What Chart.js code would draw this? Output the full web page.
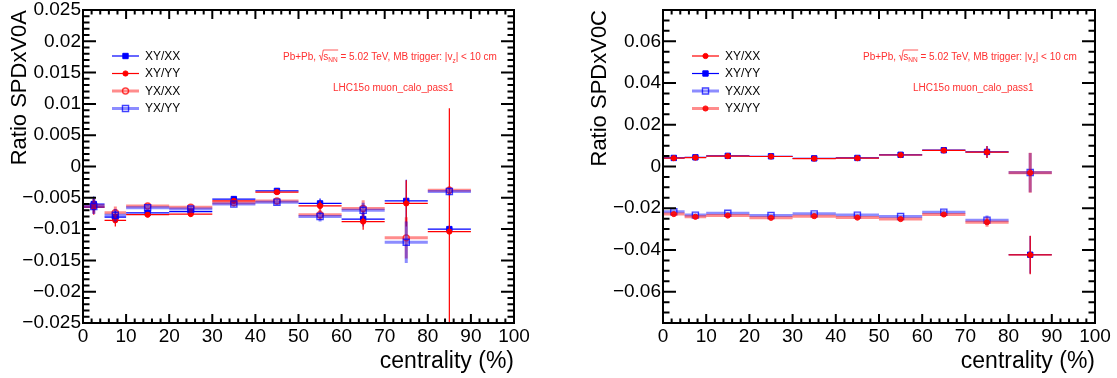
<!DOCTYPE html>
<html>
<head>
<meta charset="utf-8">
<title>SPD x V0 ratios vs centrality</title>
<script src="https://cdn.jsdelivr.net/npm/chart.js@4/dist/chart.umd.min.js"></script>
<style>
  html, body { margin: 0; padding: 0; background: #fff; }
  #wrap { position: relative; width: 1117px; height: 378px; overflow: hidden; }
  .panel { position: absolute; top: 0; height: 378px; }
</style>
</head>
<body>
<div id="wrap">
  <div class="panel" style="left:0;width:558px"><canvas id="v0a" width="558" height="378"></canvas></div>
  <div class="panel" style="left:558px;width:559px"><canvas id="v0c" width="559" height="378"></canvas></div>
</div>
<script>
"use strict";

// centrality bins (%): centres and half widths
var binCentre = [2.5, 7.5, 15, 25, 35, 45, 55, 65, 75, 85];
var binHalf = [2.5, 2.5, 5, 5, 5, 5, 5, 5, 5, 5];

// tick labels
var xTicks = [0, 10, 20, 30, 40, 50, 60, 70, 80, 90, 100];
var yTicksA = [-0.025, -0.02, -0.015, -0.01, -0.005, 0, 0.005, 0.01, 0.015, 0.02, 0.025];
var yTicksC = [-0.06, -0.04, -0.02, 0, 0.02, 0.04, 0.06];

// SPD x V0A ratios
var v0aXYXX = [-0.0060, -0.0081, -0.0074, -0.0072, -0.0052, -0.0039, -0.0059, -0.0084, -0.0055, -0.0100];
var v0aXYXXErr = [0.0012, 0.0010, 0.0004, 0.0004, 0.0004, 0.0004, 0.0008, 0.0012, 0.0034, 0.0006];
var v0aXYYY = [-0.0065, -0.0086, -0.0077, -0.0076, -0.0055, -0.0041, -0.0063, -0.0088, -0.0059, -0.0104];
var v0aXYYYErr = [0.0012, 0.0010, 0.0004, 0.0004, 0.0004, 0.0004, 0.0008, 0.0013, 0.0037, 0.0197];
var v0aYXXX = [-0.0063, -0.0074, -0.0063, -0.0065, -0.0058, -0.0055, -0.0077, -0.0067, -0.0114, -0.0038];
var v0aYXXXErr = [0.0012, 0.0010, 0.0004, 0.0004, 0.0004, 0.0004, 0.0008, 0.0013, 0.0033, 0.0006];
var v0aYXYY = [-0.0064, -0.0078, -0.0066, -0.0068, -0.0060, -0.0057, -0.0080, -0.0070, -0.0121, -0.0040];
var v0aYXYYErr = [0.0012, 0.0010, 0.0004, 0.0004, 0.0004, 0.0004, 0.0008, 0.0012, 0.0033, 0.0006];

// SPD x V0C ratios
var v0cXYXX = [0.0040, 0.0043, 0.0050, 0.0048, 0.0038, 0.0040, 0.0055, 0.0077, 0.0069, -0.0424];
var v0cXYXXErr = [0.0008, 0.0008, 0.0006, 0.0006, 0.0006, 0.0006, 0.0008, 0.0010, 0.0028, 0.0092];
var v0cXYYY = [0.0041, 0.0044, 0.0051, 0.0049, 0.0039, 0.0041, 0.0056, 0.0078, 0.0070, -0.0423];
var v0cXYYYErr = [0.0008, 0.0008, 0.0006, 0.0006, 0.0006, 0.0006, 0.0008, 0.0010, 0.0028, 0.0090];
var v0cYXXX = [-0.0217, -0.0233, -0.0224, -0.0235, -0.0227, -0.0233, -0.0240, -0.0219, -0.0257, -0.0029];
var v0cYXXXErr = [0.0008, 0.0008, 0.0006, 0.0006, 0.0006, 0.0006, 0.0008, 0.0010, 0.0022, 0.0094];
var v0cYXYY = [-0.0228, -0.0241, -0.0235, -0.0246, -0.0238, -0.0245, -0.0252, -0.0230, -0.0267, -0.0030];
var v0cYXYYErr = [0.0008, 0.0008, 0.0006, 0.0006, 0.0006, 0.0006, 0.0008, 0.0010, 0.0022, 0.0096];

var FONT = '"Liberation Sans", Arial, Helvetica, sans-serif';
var BLUE = '#0000ff', RED = '#ff0000';
var BLUE_T = 'rgba(0, 0, 255, 0.45)', RED_T = 'rgba(255, 0, 0, 0.45)';
var NOTE_RED = '#ff3030';

function toPoints(vals) {
    return vals.map(function (v, i) { return {x: binCentre[i], y: v}; });
}

function fmtTick(v) {
    return String(Number(v.toFixed(4))).replace('-', '\u2212');
}

// one graph: markers from Chart.js, error bars from the errorBars plugin
function series(label, vals, errs, st) {
    return {
        label: label,
        data: toPoints(vals),
        errors: errs,
        barColor: st.line,
        barWidth: st.lw,
        order: st.order,
        showLine: false,
        pointStyle: st.style,
        pointRadius: st.r,
        pointBackgroundColor: st.fill,
        pointBorderColor: st.border,
        pointBorderWidth: st.bw
    };
}

// ROOT style error bars: horizontal bin width, vertical stat. error
var errorBars = {
    id: 'errorBars',
    beforeDatasetDraw: function (chart, args) {
        var ds = chart.data.datasets[args.index];
        var xs = chart.scales.x, ys = chart.scales.y, ca = chart.chartArea;
        var ctx = chart.ctx;
        ctx.save();
        ctx.beginPath();
        ctx.rect(ca.left, ca.top, ca.right - ca.left, ca.bottom - ca.top);
        ctx.clip();
        ctx.strokeStyle = ds.barColor;
        ctx.lineWidth = ds.barWidth;
        ctx.beginPath();
        ds.data.forEach(function (p, i) {
            var y = ys.getPixelForValue(p.y);
            var xc = xs.getPixelForValue(p.x);
            ctx.moveTo(xs.getPixelForValue(p.x - binHalf[i]), y);
            ctx.lineTo(xs.getPixelForValue(p.x + binHalf[i]), y);
            ctx.moveTo(xc, ys.getPixelForValue(p.y + ds.errors[i]));
            ctx.lineTo(xc, ys.getPixelForValue(p.y - ds.errors[i]));
        });
        ctx.stroke();
        ctx.restore();
    }
};

// frame with inward ticks on all four sides
var rootFrame = {
    id: 'rootFrame',
    afterDraw: function (chart) {
        var o = chart.options.plugins.rootFrame;
        var ctx = chart.ctx, ca = chart.chartArea;
        var xs = chart.scales.x, ys = chart.scales.y;
        ctx.save();
        ctx.strokeStyle = '#000';
        ctx.lineWidth = 2;
        ctx.strokeRect(ca.left, ca.top, ca.right - ca.left, ca.bottom - ca.top);
        ctx.beginPath();
        var n, v, px, len, i;
        n = Math.round((xs.max - xs.min) / o.xMinor);
        for (i = 0; i <= n; i++) {
            v = xs.min + i * o.xMinor;
            px = xs.getPixelForValue(v);
            len = (i % Math.round(o.xMajor / o.xMinor) === 0) ? 9 : 4.5;
            ctx.moveTo(px, ca.bottom); ctx.lineTo(px, ca.bottom - len);
            ctx.moveTo(px, ca.top); ctx.lineTo(px, ca.top + len);
        }
        n = Math.round((ys.max - ys.min) / o.yMinor);
        for (i = 0; i <= n; i++) {
            v = ys.min + i * o.yMinor;
            px = ys.getPixelForValue(v);
            var q = v / o.yMajor;
            len = Math.abs(q - Math.round(q)) < 1e-6 ? 13 : 6.5;
            ctx.moveTo(ca.left, px); ctx.lineTo(ca.left + len, px);
            ctx.moveTo(ca.right, px); ctx.lineTo(ca.right - len, px);
        }
        ctx.stroke();
        ctx.restore();
    }
};

// legend box and the run labels
var rootText = {
    id: 'rootText',
    afterDraw: function (chart) {
        var ctx = chart.ctx, ca = chart.chartArea;
        var rows = [46, 63.5, 81, 98.5];
        ctx.save();
        chart.options.plugins.rootText.legend.forEach(function (idx, r) {
            var ds = chart.data.datasets[idx];
            var y = ca.top + rows[r];
            ctx.strokeStyle = ds.barColor;
            ctx.lineWidth = ds.barWidth;
            ctx.beginPath();
            ctx.moveTo(ca.left + 29, y);
            ctx.lineTo(ca.left + 56, y);
            ctx.stroke();
            ctx.fillStyle = ds.pointBackgroundColor;
            ctx.strokeStyle = ds.pointBorderColor;
            ctx.lineWidth = ds.pointBorderWidth;
            Chart.helpers.drawPoint(ctx, {
                pointStyle: ds.pointStyle, radius: ds.pointRadius,
                borderWidth: ds.pointBorderWidth, rotation: 0
            }, ca.left + 42.5, y);
            ctx.fillStyle = '#000';
            ctx.font = '12px ' + FONT;
            ctx.textAlign = 'left';
            ctx.textBaseline = 'middle';
            ctx.fillText(ds.label, ca.left + 62, y + 0.5);
        });

        // collision system line
        var x = ca.left + 200, y = ca.top + 49.5;
        var big = '10px ' + FONT, small = '6.5px ' + FONT;
        ctx.fillStyle = NOTE_RED;
        ctx.strokeStyle = NOTE_RED;
        ctx.textBaseline = 'alphabetic';
        function put(str, font, dy) {
            ctx.font = font;
            ctx.fillText(str, x, y + (dy || 0));
            x += ctx.measureText(str).width;
        }
        put('Pb+Pb, ', big);
        ctx.lineWidth = 0.8;
        ctx.beginPath();
        ctx.moveTo(x, y - 3.5);
        ctx.lineTo(x + 1.2, y - 4.2);
        ctx.lineTo(x + 2.6, y + 1);
        ctx.lineTo(x + 4.4, y - 9.5);
        x += 4.4;
        put('s', big);
        put('NN', small, 2.5);
        ctx.lineTo(x + 0.5, y - 9.5);
        ctx.stroke();
        put(' = 5.02 TeV, MB trigger: |v', big);
        put('z', small, 3);
        put('| < 10 cm', big);

        ctx.font = big;
        ctx.fillText('LHC15o muon_calo_pass1', ca.left + 250, ca.top + 80.5);
        ctx.restore();
    }
};

function makePanel(id, cfg) {
    var ctx = document.getElementById(id).getContext('2d');
    return new Chart(ctx, {
        type: 'scatter',
        data: { datasets: cfg.datasets },
        plugins: [errorBars, rootFrame, rootText],
        options: {
            responsive: false,
            animation: false,
            devicePixelRatio: 1,
            layout: { padding: { left: 0, top: 10, right: cfg.padRight, bottom: 0 } },
            plugins: {
                legend: { display: false },
                tooltip: { enabled: false },
                rootFrame: { xMajor: 10, xMinor: 2, yMajor: cfg.yMajor, yMinor: cfg.yMinor },
                rootText: { legend: cfg.legend }
            },
            scales: {
                x: {
                    type: 'linear', min: 0, max: 100,
                    afterBuildTicks: function (s) { s.ticks = xTicks.map(function (v) { return {value: v}; }); },
                    afterFit: function (s) { s.height = 55; s.paddingLeft = 0; s.paddingRight = 0; },
                    grid: { display: false, drawTicks: false },
                    border: { display: false },
                    ticks: {
                        color: '#000', padding: 2, maxRotation: 0, autoSkip: false,
                        font: { size: 19, family: FONT },
                        callback: function (v) { return fmtTick(v); }
                    },
                    title: {
                        display: true, text: 'centrality (%)', align: 'end', color: '#000',
                        font: { size: 23, family: FONT }, padding: { top: 0, bottom: 3 }
                    }
                },
                y: {
                    type: 'linear', min: cfg.yMin, max: cfg.yMax,
                    afterBuildTicks: function (s) { s.ticks = cfg.yTicks.map(function (v) { return {value: v}; }); },
                    afterFit: function (s) { s.width = cfg.axisWidth; s.paddingTop = 0; s.paddingBottom = 0; },
                    grid: { display: false, drawTicks: false },
                    border: { display: false },
                    ticks: {
                        color: '#000', padding: 2, autoSkip: false,
                        font: { size: 19, family: FONT },
                        callback: function (v) { return fmtTick(v); }
                    },
                    title: {
                        display: true, text: cfg.yTitle, align: 'end', color: '#000',
                        font: { size: 22, family: FONT }, padding: { top: cfg.titlePad, bottom: 0 }
                    }
                }
            }
        }
    });
}

// SPDxV0A panel
makePanel('v0a', {
    yMin: -0.025, yMax: 0.025, yTicks: yTicksA, yMajor: 0.005, yMinor: 0.001,
    yTitle: 'Ratio SPDxV0A', axisWidth: 83, padRight: 44, titlePad: 7,
    legend: [0, 1, 2, 3],
    datasets: [
        series('XY/XX', v0aXYXX, v0aXYXXErr, {line: BLUE, lw: 1.2, order: 4, style: 'rect', r: 3.8, fill: BLUE, border: BLUE, bw: 1}),
        series('XY/YY', v0aXYYY, v0aXYYYErr, {line: RED, lw: 1.2, order: 3, style: 'circle', r: 2.6, fill: RED, border: RED, bw: 1}),
        series('YX/XX', v0aYXXX, v0aYXXXErr, {line: RED_T, lw: 3, order: 2, style: 'circle', r: 3, fill: 'rgba(255,255,255,0)', border: 'rgba(255,0,0,0.75)', bw: 1.4}),
        series('YX/YY', v0aYXYY, v0aYXYYErr, {line: BLUE_T, lw: 3, order: 1, style: 'rect', r: 4.3, fill: 'rgba(255,255,255,0)', border: 'rgba(0,0,255,0.75)', bw: 1.4})
    ]
});

// SPDxV0C panel
makePanel('v0c', {
    yMin: -0.075, yMax: 0.075, yTicks: yTicksC, yMajor: 0.02, yMinor: 0.005,
    yTitle: 'Ratio SPDxV0C', axisWidth: 105, padRight: 22, titlePad: 29,
    legend: [0, 1, 2, 3],
    datasets: [
        series('XY/XX', v0cXYXX, v0cXYXXErr, {line: RED, lw: 1.2, order: 3, style: 'circle', r: 2.6, fill: RED, border: RED, bw: 1}),
        series('XY/YY', v0cXYYY, v0cXYYYErr, {line: BLUE, lw: 1.2, order: 4, style: 'rect', r: 3.8, fill: BLUE, border: BLUE, bw: 1}),
        series('YX/XX', v0cYXXX, v0cYXXXErr, {line: BLUE_T, lw: 3, order: 2, style: 'rect', r: 4.3, fill: 'rgba(255,255,255,0)', border: 'rgba(0,0,255,0.75)', bw: 1.4}),
        series('YX/YY', v0cYXYY, v0cYXYYErr, {line: RED_T, lw: 3, order: 1, style: 'circle', r: 2.6, fill: 'rgba(255,0,0,0.85)', border: 'rgba(255,0,0,0.85)', bw: 1})
    ]
});
</script>
</body>
</html>
